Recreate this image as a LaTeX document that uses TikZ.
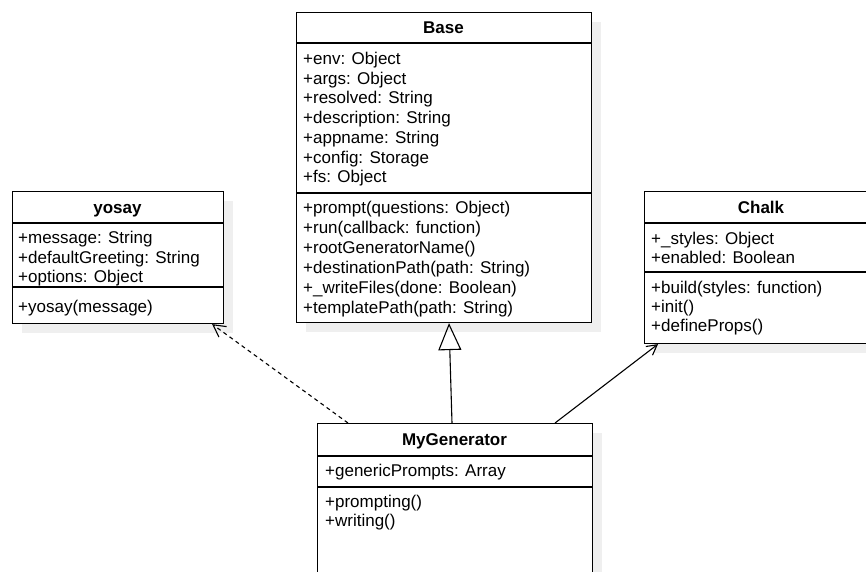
\documentclass[tikz,border=0pt]{standalone}
\usepackage{fontspec}
\setmainfont{Liberation Sans}
\usetikzlibrary{arrows.meta,shadows}
\definecolor{shadowgray}{HTML}{EFEFEF}
\tikzset{
  frame/.style={draw=black, line width=1.1pt},
  classbox/.style={frame, fill=white, inner sep=0pt, anchor=north west,
    drop shadow={shadow xshift=9pt, shadow yshift=-9pt, fill=shadowgray, opacity=1}},
  member/.style={anchor=base west, inner sep=0pt, font=\fontsize{17}{20}\selectfont},
  classtitle/.style={anchor=base, inner sep=0pt, font=\fontsize{17}{20}\selectfont\bfseries},
  generalization/.style={line width=1.1pt, -{Triangle[open, length=27pt, width=23pt]}},
  dependency/.style={line width=1.1pt, dash pattern=on 4pt off 3.5pt, -{Straight Barb[length=12pt, width=13pt]}},
  association/.style={line width=1.1pt, -{Straight Barb[length=10pt, width=11pt]}},
}
\begin{document}
\begin{tikzpicture}[x=1pt,y=-1pt]
\useasboundingbox (0,0) rectangle (866,571);
\clip (0,0) rectangle (866,571);

% class boxes
\node[classbox, minimum width=295pt, minimum height=310pt] (base) at (296,12) {};
\node[classbox, minimum width=211pt, minimum height=132pt] (yosay) at (12,191) {};
\node[classbox, minimum width=234pt, minimum height=152pt] (chalk) at (644,191) {};
\node[classbox, minimum width=275pt, minimum height=170pt] (mygen) at (317,423) {};

% compartment separators
\draw[frame] (base.north west) ++(0,31) -- ++(295,0);
\draw[frame] (base.north west) ++(0,181) -- ++(295,0);
\draw[frame] (yosay.north west) ++(0,32) -- ++(211,0);
\draw[frame] (yosay.north west) ++(0,96) -- ++(211,0);
\draw[frame] (chalk.north west) ++(0,32) -- ++(234,0);
\draw[frame] (chalk.north west) ++(0,81) -- ++(234,0);
\draw[frame] (mygen.north west) ++(0,33) -- ++(275,0);
\draw[frame] (mygen.north west) ++(0,64) -- ++(275,0);

% Base
\node[classtitle] (base-t) at (443.5,33.5) {Base};
\node[member] (base-a1) at (303,64.3) {+env: Object};
\node[member] (base-a2) at (303,84.0) {+args: Object};
\node[member] (base-a3) at (303,103.8) {+resolved: String};
\node[member] (base-a4) at (303,123.5) {+description: String};
\node[member] (base-a5) at (303,143.3) {+appname: String};
\node[member] (base-a6) at (303,163.0) {+config: Storage};
\node[member] (base-a7) at (303,182.8) {+fs: Object};
\node[member] (base-m1) at (303,213.3) {+prompt(questions: Object)};
\node[member] (base-m2) at (303,233.3) {+run(callback: function)};
\node[member] (base-m3) at (303,253.3) {+rootGeneratorName()};
\node[member] (base-m4) at (303,273.3) {+destinationPath(path: String)};
\node[member] (base-m5) at (303,293.3) {+\_writeFiles(done: Boolean)};
\node[member] (base-m6) at (303,313.3) {+templatePath(path: String)};

% yosay
\node[classtitle] (yosay-t) at (117.5,213) {yosay};
\node[member] (yosay-a1) at (18,243.7) {+message: String};
\node[member] (yosay-a2) at (18,263.2) {+defaultGreeting: String};
\node[member] (yosay-a3) at (18,282.7) {+options: Object};
\node[member] (yosay-m1) at (18,312.7) {+yosay(message)};

% Chalk
\node[classtitle] (chalk-t) at (761,213) {Chalk};
\node[member] (chalk-a1) at (651,244.3) {+\_styles: Object};
\node[member] (chalk-a2) at (651,263.5) {+enabled: Boolean};
\node[member] (chalk-m1) at (651,293) {+build(styles: function)};
\node[member] (chalk-m2) at (651,312.7) {+init()};
\node[member] (chalk-m3) at (651,331.7) {+defineProps()};

% MyGenerator
\node[classtitle] (mygen-t) at (454.5,445.7) {MyGenerator};
\node[member] (mygen-a1) at (325,476) {+genericPrompts: Array};
\node[member] (mygen-m1) at (325,507.3) {+prompting()};
\node[member] (mygen-m2) at (325,526.5) {+writing()};

% connectors
\draw[generalization] ([xshift=135pt]mygen.north west) -- ([xshift=153pt]base.south west);
\draw[dependency] ([xshift=31pt]mygen.north west) -- ([xshift=-12pt]yosay.south east);
\draw[association] ([xshift=238pt]mygen.north west) -- ([xshift=14pt]chalk.south west);
\end{tikzpicture}
\end{document}
